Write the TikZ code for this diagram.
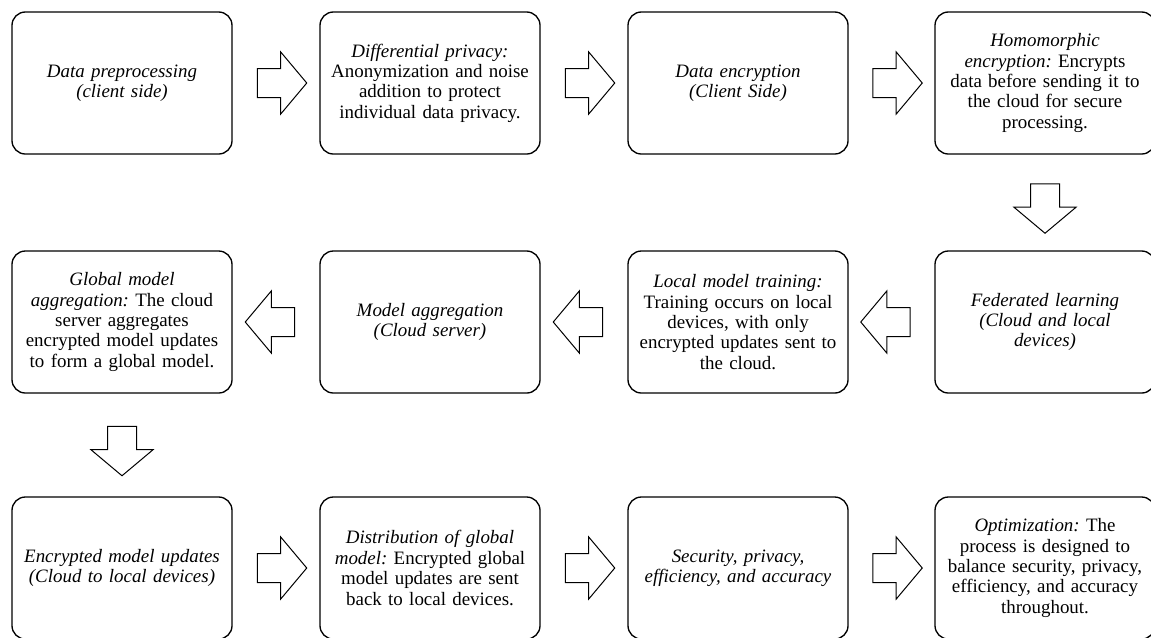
\documentclass[tikz,border=0pt]{standalone}
\usepackage{fontspec}
\setmainfont{Liberation Serif}
\usetikzlibrary{shapes.arrows,calc}

\begin{document}
\begin{tikzpicture}[x=0.75pt,y=-0.75pt,
    box/.style={draw,line width=1pt,rounded corners=10pt,minimum width=165pt,
        minimum height=106.5pt,text width=160pt,align=center,inner sep=0pt,
        font=\fontsize{14.2}{15.3}\selectfont\frenchspacing},
    fat/.style={draw,line width=0.75pt,single arrow,single arrow tip angle=100,
        single arrow head extend=12.4pt,minimum height=37pt,inner xsep=0pt,inner ysep=10.5pt}]
            \clip (0,0) rectangle (1151,637);
            \node[box] (pre) at (122,83) {\textit{Data preprocessing}\\\textit{(client side)}};
            \node[box] (dp) at (430,83) {\textit{Differential privacy:}\\Anonymization and noise\\addition to protect\\individual data privacy.};
            \node[box] (enc) at (738,83) {\textit{Data encryption}\\\textit{(Client Side)}};
            \node[box] (he) at (1045,83) {\textit{Homomorphic}\\\textit{encryption:} Encrypts\\data before sending it to\\the cloud for secure\\processing.};
            \node[box] (fl) at (1045,322) {\textit{Federated learning}\\\textit{(Cloud and local}\\\textit{devices)}};
            \node[box] (lt) at (738,322) {\textit{Local model training:}\\Training occurs on local\\devices, with only\\encrypted updates sent to\\the cloud.};
            \node[box] (ma) at (430,322) {\textit{Model aggregation}\\\textit{(Cloud server)}};
            \node[box] (ga) at (122,322) {\textit{Global model}\\\textit{aggregation:} The cloud\\server aggregates\\encrypted model updates\\to form a global model.};
            \node[box] (emu) at (122,568) {\textit{Encrypted model updates}\\\textit{(Cloud to local devices)}};
            \node[box] (dist) at (430,568) {\textit{Distribution of global}\\\textit{model:} Encrypted global\\model updates are sent\\back to local devices.};
            \node[box] (spe) at (738,568) {\textit{Security, privacy,}\\\textit{efficiency, and accuracy}};
            \node[box] (opt) at (1045,568) {\textit{Optimization:} The\\process is designed to\\balance security, privacy,\\efficiency, and accuracy\\throughout.};
            \node[fat] (a1) at ($(pre.east)!0.5!(dp.west)$) {};
            \node[fat] (a2) at ($(dp.east)!0.5!(enc.west)$) {};
            \node[fat] (a3) at ($(enc.east)!0.5!(he.west)$) {};
            \node[fat,rotate=270] (a4) at ($(he.south)!0.5!(fl.north)$) {};
            \node[fat,rotate=180] (a5) at ($(fl.west)!0.5!(lt.east)$) {};
            \node[fat,rotate=180] (a6) at ($(lt.west)!0.5!(ma.east)$) {};
            \node[fat,rotate=180] (a7) at ($(ma.west)!0.5!(ga.east)$) {};
            \node[fat,rotate=270] (a8) at ($(ga.south)!0.5!(emu.north)$) {};
            \node[fat] (a9) at ($(emu.east)!0.5!(dist.west)$) {};
            \node[fat] (a10) at ($(dist.east)!0.5!(spe.west)$) {};
            \node[fat] (a11) at ($(spe.east)!0.5!(opt.west)$) {};
        \end{tikzpicture}
\end{document}
